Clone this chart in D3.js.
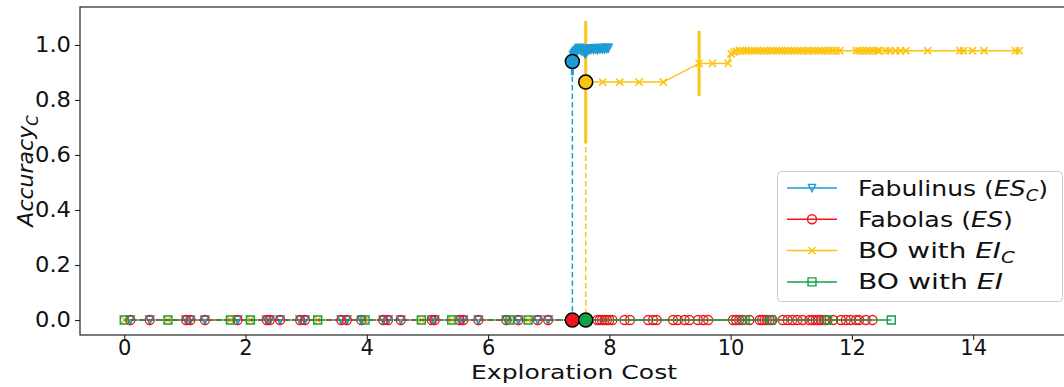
<!DOCTYPE html>
<html>
<head>
<meta charset="utf-8">
<script src="https://cdn.jsdelivr.net/npm/d3@7"></script>
<style>
  html, body { margin: 0; padding: 0; background: #fff; }
  svg { display: block; font-family: "DejaVu Sans", sans-serif; }
</style>
</head>
<body>
<svg id="chart" width="1064" height="387"></svg>
<script>
// ---- data -------------------------------------------------------------
const xTicks = [0, 2, 4, 6, 8, 10, 12, 14];
const yTicks = [0.0, 0.2, 0.4, 0.6, 0.8, 1.0];

// Fabulinus (ES_C)
const fabulinusCost = [0.1, 0.42, 1.02, 1.09, 1.33, 1.87, 2.35, 2.4, 2.57, 2.9, 2.98, 3.58, 3.67, 3.91,
  4.27, 4.35, 4.56, 5.07, 5.12, 5.53, 5.59, 5.84, 6.3, 6.5, 6.82, 6.99, 7.39,
  7.39, 7.41, 7.43, 7.45, 7.47, 7.49, 7.51, 7.53, 7.55, 7.57, 7.59, 7.61, 7.63, 7.65, 7.68, 7.71,
  7.74, 7.77, 7.8, 7.83, 7.86, 7.89, 7.92, 7.95, 7.98];
const fabulinusAcc = [0, 0, 0, 0, 0, 0, 0, 0, 0, 0, 0, 0, 0, 0,
  0, 0, 0, 0, 0, 0, 0, 0, 0, 0, 0, 0, 0,
  0.94, 0.962, 0.968, 0.974, 0.978, 0.984, 0.988, 0.982, 0.978, 0.984, 0.972, 0.97, 0.976, 0.985, 0.984, 0.986,
  0.985, 0.987, 0.984, 0.986, 0.987, 0.986, 0.987, 0.988, 0.988];

// Fabolas (ES)
const fabolasCost = [0.1, 0.42, 1.02, 1.09, 1.33, 1.87, 2.35, 2.4, 2.57, 2.9, 2.98, 3.58, 3.67, 3.91,
  4.27, 4.35, 4.56, 5.07, 5.12, 5.53, 5.59, 5.84, 6.3, 6.5, 6.82, 6.99, 7.39,
  7.8, 7.84, 7.88, 7.92, 7.96, 8.0, 8.05, 8.25, 8.34, 8.64, 8.72, 8.78, 9.05, 9.13, 9.24, 9.32,
  9.46, 9.55, 9.63, 10.04, 10.09, 10.14, 10.2, 10.31, 10.48, 10.52, 10.56, 10.6, 10.64, 10.69,
  10.86, 10.94, 11.02, 11.1, 11.19, 11.3, 11.35, 11.4, 11.45, 11.5, 11.55, 11.58, 11.69, 11.82,
  11.9, 11.98, 12.07, 12.12, 12.23, 12.34];
const fabolasAcc = [0, 0, 0, 0, 0, 0, 0, 0, 0, 0, 0, 0, 0, 0,
  0, 0, 0, 0, 0, 0, 0, 0, 0, 0, 0, 0, 0,
  0, 0, 0, 0, 0, 0, 0, 0, 0, 0, 0, 0, 0, 0, 0, 0,
  0, 0, 0, 0, 0, 0, 0, 0, 0, 0, 0, 0, 0, 0,
  0, 0, 0, 0, 0, 0, 0, 0, 0, 0, 0, 0, 0, 0,
  0, 0, 0, 0, 0, 0];

// BO with EI_C
const boEiCCost = [0.0, 0.72, 1.75, 2.08, 3.19, 3.97, 4.9, 5.4, 6.36, 6.66, 7.61,
  7.61, 7.89, 8.17, 8.49, 8.89, 9.48, 9.7, 9.96, 10.01, 10.05, 10.09,
  10.15, 10.2, 10.26, 10.3, 10.35, 10.4, 10.45, 10.5, 10.55, 10.6, 10.66, 10.7, 10.75, 10.8,
  10.85, 10.9, 10.95, 11.0, 11.05, 11.1, 11.15, 11.2, 11.26, 11.3, 11.35, 11.4, 11.45, 11.5,
  11.56, 11.62, 11.68, 11.74, 11.8, 12.07, 12.12, 12.18, 12.24, 12.3, 12.36, 12.42, 12.45,
  12.56, 12.62, 12.72, 12.8, 12.89, 13.25, 13.78, 13.84, 13.99, 14.18, 14.7, 14.76];
const boEiCAcc = [0, 0, 0, 0, 0, 0, 0, 0, 0, 0, 0,
  0.865, 0.865, 0.865, 0.865, 0.865, 0.933, 0.933, 0.933, 0.968, 0.974, 0.977,
  0.979, 0.979, 0.979, 0.979, 0.979, 0.979, 0.979, 0.979, 0.979, 0.979, 0.979, 0.979, 0.979, 0.979,
  0.979, 0.979, 0.979, 0.979, 0.979, 0.979, 0.979, 0.979, 0.979, 0.979, 0.979, 0.979, 0.979, 0.979,
  0.979, 0.979, 0.979, 0.979, 0.979, 0.979, 0.979, 0.979, 0.979, 0.979, 0.979, 0.979, 0.979,
  0.979, 0.979, 0.979, 0.979, 0.979, 0.979, 0.979, 0.979, 0.979, 0.979, 0.979, 0.979];

// BO with EI
const boEiCost = [0.0, 0.72, 1.75, 2.08, 3.19, 3.97, 4.9, 5.4, 6.36, 6.66, 7.61, 10.24, 10.67, 11.6, 12.65];
const boEiAcc = [0, 0, 0, 0, 0, 0, 0, 0, 0, 0, 0, 0, 0, 0, 0];

// cost at which each run reaches its incumbent (highlighted point)
const incumbentCost = { fabulinus: 7.39, fabolas: 7.39, boEiC: 7.61, boEi: 7.61 };

// error bars (centre accuracy and half width)
const fabulinusErrCost = [7.39];
const fabulinusErrAcc = [0.94];
const fabulinusErrHalf = [0.05];
const boEiCErrCost = [7.61, 9.48];
const boEiCErrAcc = [0.865, 0.933];
const boEiCErrHalf = [0.222, 0.118];

// ---- layout -----------------------------------------------------------
const svg = d3.select("#chart");
const plot = { left: 80, top: 7, right: 1072, bottom: 335 };
const x = d3.scaleLinear().domain([-0.73, 15.63]).range([plot.left, plot.right]);
const y = d3.scaleLinear().domain([-0.0545, 1.138]).range([plot.bottom, plot.top]);

const colors = { fabulinus: "#1c9bd4", fabolas: "#f2141c", boEiC: "#fcc412", boEi: "#11a04a" };

svg.append("defs").append("clipPath").attr("id", "clip")
  .append("rect").attr("x", plot.left).attr("y", plot.top)
  .attr("width", plot.right - plot.left).attr("height", plot.bottom - plot.top);

// ---- axes -------------------------------------------------------------
const xAxis = svg.append("g").attr("transform", `translate(0,${plot.bottom})`)
  .call(d3.axisBottom(x).tickValues(xTicks).tickFormat(d3.format("d")).tickSize(5).tickPadding(0));
const yAxis = svg.append("g").attr("transform", `translate(${plot.left},0)`)
  .call(d3.axisLeft(y).tickValues(yTicks).tickFormat(d3.format(".1f")).tickSize(5).tickPadding(4));
[xAxis, yAxis].forEach(g => {
  g.select(".domain").remove();
  g.selectAll(".tick line").attr("stroke", "#222").attr("stroke-width", 1.1);
  g.selectAll(".tick text").attr("fill", "#111").style("font-size", "21px")
    .style("font-family", "'DejaVu Sans', sans-serif");
});
yAxis.selectAll(".tick text").attr("textLength", 36).attr("lengthAdjust", "spacingAndGlyphs");

svg.append("text").attr("x", 574).attr("y", 379)
  .attr("text-anchor", "middle").style("font-size", "20px").attr("fill", "#111")
  .attr("textLength", 206).attr("lengthAdjust", "spacingAndGlyphs")
  .text("Exploration Cost");

const yl = svg.append("text").attr("transform", "translate(33,171) rotate(-90)")
  .attr("text-anchor", "middle").style("font-size", "22px").attr("fill", "#111")
  .style("font-style", "italic");
yl.append("tspan").text("Accuracy");
yl.append("tspan").attr("dy", 5).style("font-size", "15px").text("C");

// ---- marks ------------------------------------------------------------
const g = svg.append("g").attr("clip-path", "url(#clip)");

const markerPath = {
  tri: r => `M${-r},${-r}L${r},${-r}L0,${r}Z`,
  circle: r => `M${r},0A${r},${r} 0 1,1 ${-r},0A${r},${r} 0 1,1 ${r},0Z`,
  square: r => `M${-r},${-r}H${r}V${r}H${-r}Z`,
  cross: r => `M${-r},${-r}L${r},${r}M${-r},${r}L${r},${-r}`
};

function drawErrors(cost, acc, half, color, width) {
  g.append("g").selectAll("line").data(cost).join("line")
    .attr("x1", d => x(d)).attr("x2", d => x(d))
    .attr("y1", (d, i) => y(acc[i] - half[i])).attr("y2", (d, i) => y(acc[i] + half[i]))
    .attr("stroke", color).attr("stroke-width", width);
}

function drawSeries(cost, acc, key, shape, r, sw) {
  const color = colors[key];
  const pts = cost.map((c, i) => [c, acc[i]]);
  const k = cost.lastIndexOf(incumbentCost[key]);
  const line = d3.line().x(d => x(d[0])).y(d => y(d[1]));
  g.append("path").attr("d", line(pts.slice(0, k + 1))).attr("fill", "none")
    .attr("stroke", color).attr("stroke-width", 1.5).attr("stroke-dasharray", "5.5,3");
  g.append("path").attr("d", line(pts.slice(k))).attr("fill", "none")
    .attr("stroke", color).attr("stroke-width", 1.5);
  g.append("g").selectAll("path").data(pts).join("path")
    .attr("transform", d => `translate(${x(d[0])},${y(d[1])})`)
    .attr("d", markerPath[shape](r)).attr("fill", "none")
    .attr("stroke", color).attr("stroke-width", sw);
  return pts[k];
}

drawErrors(boEiCErrCost, boEiCErrAcc, boEiCErrHalf, colors.boEiC, 3);
drawErrors(fabulinusErrCost, fabulinusErrAcc, fabulinusErrHalf, colors.fabulinus, 3);

const incBoEiC = drawSeries(boEiCCost, boEiCAcc, "boEiC", "cross", 3.6, 1.6);
const incFabulinus = drawSeries(fabulinusCost, fabulinusAcc, "fabulinus", "tri", 3.8, 1.8);
const incFabolas = drawSeries(fabolasCost, fabolasAcc, "fabolas", "circle", 4.5, 1.3);
const incBoEi = drawSeries(boEiCost, boEiAcc, "boEi", "square", 4, 1.4);

// highlighted incumbents
[[incFabulinus, "fabulinus"], [incFabolas, "fabolas"], [incBoEiC, "boEiC"], [incBoEi, "boEi"]]
  .forEach(([p, key]) => {
    g.append("circle").attr("cx", x(p[0])).attr("cy", y(p[1])).attr("r", 7)
      .attr("fill", colors[key]).attr("stroke", "#000").attr("stroke-width", 1.5);
  });

// frame
svg.append("rect").attr("x", plot.left).attr("y", plot.top)
  .attr("width", plot.right - plot.left).attr("height", plot.bottom - plot.top)
  .attr("fill", "none").attr("stroke", "#222").attr("stroke-width", 1.2);

// ---- legend -----------------------------------------------------------
const legendItems = [
  { key: "fabulinus", shape: "tri", r: 3.6, width: 190, parts: [["Fabulinus (", ""], ["ES", "i"], ["C", "sub"], [")", ""]] },
  { key: "fabolas", shape: "circle", r: 4.5, width: 155, parts: [["Fabolas (", ""], ["ES", "i"], [")", ""]] },
  { key: "boEiC", shape: "cross", r: 3.6, width: 157, parts: [["BO with ", ""], ["EI", "i"], ["C", "sub"]] },
  { key: "boEi", shape: "square", r: 4, width: 145, parts: [["BO with ", ""], ["EI", "i"]] }
];
const lg = svg.append("g");
lg.append("rect").attr("x", 777.5).attr("y", 171.5).attr("width", 285).attr("height", 130).attr("rx", 4)
  .attr("fill", "#fff").attr("fill-opacity", 0.8).attr("stroke", "#ccc").attr("stroke-width", 1);
legendItems.forEach((it, i) => {
  const cy = 188 + i * 31.3;
  lg.append("line").attr("x1", 787).attr("x2", 837).attr("y1", cy).attr("y2", cy)
    .attr("stroke", colors[it.key]).attr("stroke-width", 1.5);
  lg.append("path").attr("transform", `translate(812,${cy})`).attr("d", markerPath[it.shape](it.r))
    .attr("fill", "none").attr("stroke", colors[it.key]).attr("stroke-width", 1.4);
  const t = lg.append("text").attr("x", 858).attr("y", cy + 7.5).style("font-size", "21px").attr("fill", "#111")
    .attr("textLength", it.width).attr("lengthAdjust", "spacingAndGlyphs");
  let sub = false;
  it.parts.forEach(([s, kind]) => {
    const ts = t.append("tspan").text(s);
    if (kind === "i") ts.style("font-style", "italic");
    if (kind === "sub") { ts.style("font-style", "italic").style("font-size", "15px").attr("dy", 5); sub = true; }
    else if (sub) { ts.attr("dy", -5); sub = false; }
  });
});
</script>
</body>
</html>
